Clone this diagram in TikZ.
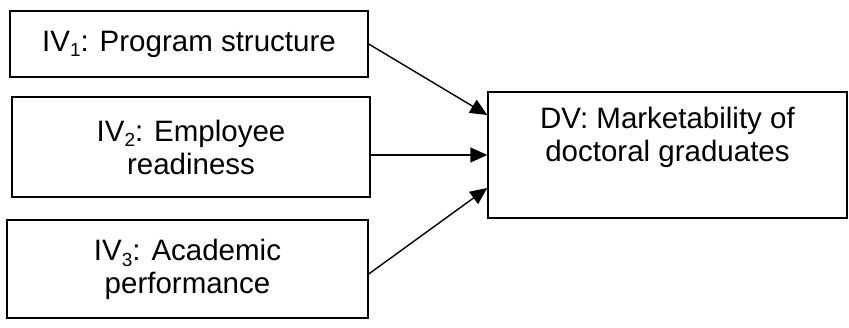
\documentclass[tikz,border=0pt]{standalone}
\usepackage{fontspec}
\setmainfont{Liberation Sans}
\usetikzlibrary{arrows.meta, calc}
\newcommand{\varsub}[1]{\raisebox{-0.2em}{\fontsize{19}{19}\selectfont #1}}
\tikzstyle{varbox} = [rectangle, draw=black, line width=1.4pt, fill=white, text centered, align=center, font=\fontsize{29.5}{33}\selectfont]
\tikzstyle{boxtext} = [text centered, align=center, font=\fontsize{29.5}{33}\selectfont]
\tikzstyle{arrow} = [line width=1.4pt, -{Triangle[length=17pt, width=15pt]}]

\begin{document}
\begin{tikzpicture}[x=1pt, y=-1pt]
        \useasboundingbox (0,0) rectangle (849,327);
        \node (iv1) [varbox, minimum width=358pt, minimum height=66pt] at (189,44) {IV\varsub{1}: Program structure};
        \node (iv2) [varbox, minimum width=358pt, minimum height=100pt] at (191,147) {IV\varsub{2}: Employee\\readiness};
        \node (iv3) [varbox, minimum width=361pt, minimum height=98pt] at (187.5,269) {IV\varsub{3}: Academic\\performance};
        \node (dv) [varbox, minimum width=359pt, minimum height=126pt] at (667.5,155) {};
        \node (dv_text) [boxtext] at ($(dv.north)+(0,46)$) {DV: Marketability of\\doctoral graduates};

        \draw [arrow] (iv1.east) -- ([yshift=40pt]dv.west);
        \draw [arrow] (iv2.east |- dv.west) -- (dv.west);
        \draw [arrow] ([yshift=-5pt]iv3.east) -- ([yshift=-33pt]dv.west);
    \end{tikzpicture}
\end{document}
